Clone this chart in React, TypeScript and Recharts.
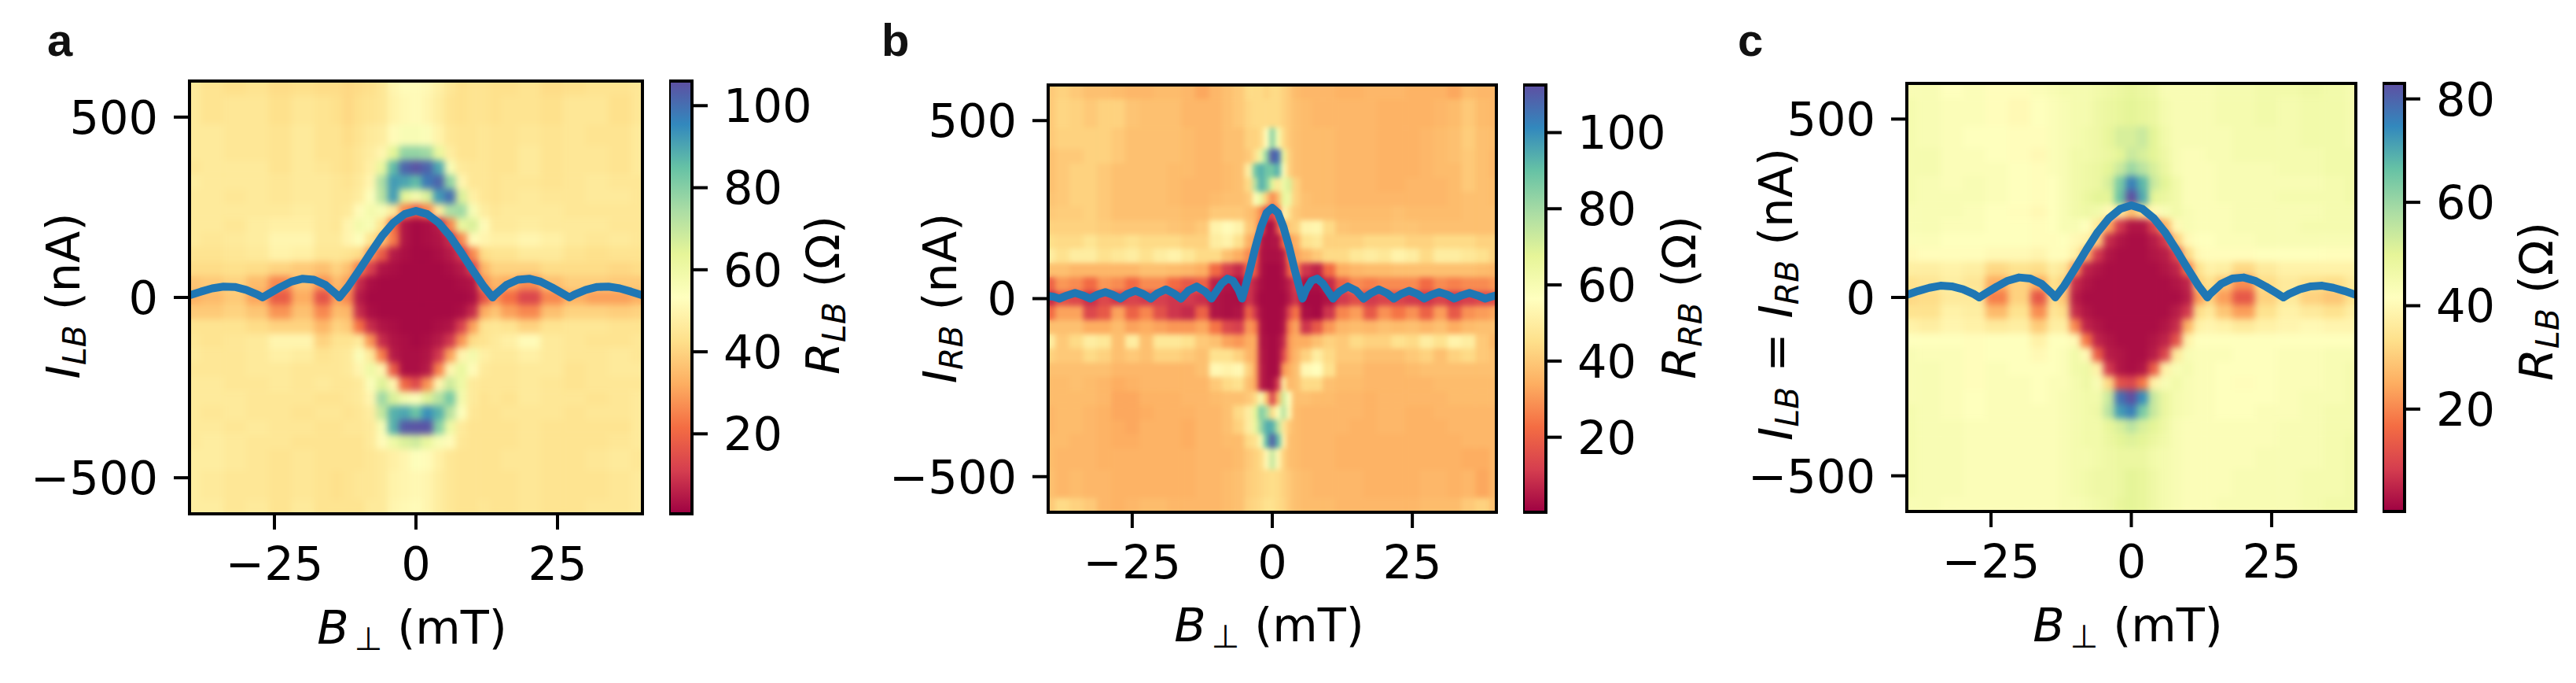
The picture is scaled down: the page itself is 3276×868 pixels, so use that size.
import React from "react"
import {Bar, BarChart, ComposedChart, Line, ReferenceArea, Scatter, XAxis, YAxis} from 'recharts';

const spectral = ['#9e0142', '#d53e4f', '#f46d43', '#fdae61', '#fee08b', '#ffffbf', '#e6f598', '#abdda4', '#66c2a5', '#3288bd', '#5e4fa2'];

const xTicks = [-25, 0, 25];
const yTicks = [-500, 0, 500];
const rows = [600, 520, 440, 400, 360, 320, 280, 240, 200, 160, 120, 80, 40, 0, -40, -80, -120, -160, -200, -240, -280, -320, -360, -400, -440, -520, -600];
const colsAC = [-40, -36, -32, -28, -24, -20, -16, -14, -12, -10, -8, -6, -4, -2, 0, 2, 4, 6, 8, 10, 12, 14, 16, 20, 24, 28, 32, 36, 40];
const colsB = [-40, -37.5, -35, -32.5, -30, -27.5, -25, -22.5, -20, -17.5, -15, -12.5, -10, -8, -6, -4, -3, -2, -1, 0, 1, 2, 3, 4, 6, 8, 10, 12.5, 15, 17.5, 20, 22.5, 25, 27.5, 30, 32.5, 35, 37.5, 40];

// R_LB map, one line per row of `rows`
const mapA = [
    [46,44,43,44,42,43,42,42,41,42,43,45,50,52,52,51,48,45,43,44,44,43,43,44,42,43,44,44,45],
    [46,44,45,45,43,45,44,43,41,43,44,45,49,51,52,50,47,44,43,44,44,43,44,44,43,45,45,43,45],
    [46,46,45,45,44,46,44,44,42,44,46,47,52,56,56,55,49,45,44,44,45,44,44,45,44,45,44,44,46],
    [46,46,45,45,44,46,44,44,43,45,47,50,64,78,78,76,62,47,44,44,45,44,44,46,44,45,45,44,46],
    [45,46,46,46,44,46,45,44,43,45,48,62,86,102,105,102,90,56,46,45,45,44,44,46,44,45,45,44,46],
    [47,46,46,46,45,46,46,45,44,46,50,74,92,90,86,98,102,78,50,45,45,44,45,45,44,45,46,45,45],
    [46,46,45,46,45,46,46,45,45,47,54,72,92,64,58,66,92,100,66,48,45,44,45,46,45,45,46,46,45],
    [46,46,46,46,46,47,46,45,46,52,58,56,46,26,18,26,46,74,76,56,47,45,46,46,46,45,45,45,45],
    [46,46,45,47,48,48,46,45,50,58,56,44,22,4,2,3,5,26,62,66,52,46,46,47,46,46,46,45,45],
    [46,45,46,47,50,50,46,46,50,54,44,36,24,4,2,3,4,8,26,52,50,48,48,50,48,46,45,46,45],
    [44,44,45,46,49,48,45,45,44,42,28,18,5,3,2,2,3,5,10,26,42,44,44,46,46,44,43,44,44],
    [42,42,43,42,40,38,36,40,36,24,12,4,3,2,2,2,2,3,5,12,34,40,40,40,42,42,42,41,42],
    [37,38,40,35,26,36,28,35,30,8,3,2,2,2,2,2,2,2,3,4,28,34,32,27,36,39,39,38,38],
    [33,35,38,31,18,32,16,30,26,5,2,2,2,2,2,2,2,2,2,3,16,28,22,13,26,33,30,30,33],
    [38,38,40,37,28,36,26,35,34,8,3,2,2,2,2,2,2,2,3,8,32,37,30,26,36,40,40,39,40],
    [44,44,44,42,40,40,34,40,38,22,8,4,3,2,2,2,3,4,12,30,44,45,44,40,44,45,45,44,44],
    [45,44,45,46,50,50,40,44,44,46,28,8,4,3,2,3,5,10,28,42,44,46,48,52,46,45,44,44,45],
    [46,45,45,46,48,47,44,45,46,55,46,24,5,3,3,4,10,30,50,58,48,46,46,48,46,45,45,46,45],
    [45,45,45,46,46,45,45,45,46,50,60,50,18,3,3,5,25,50,62,52,46,45,45,46,46,44,45,46,46],
    [46,46,45,45,46,45,46,45,45,46,55,65,50,20,14,28,50,68,60,46,45,45,45,46,45,44,45,45,45],
    [46,46,46,45,45,45,44,44,45,46,50,76,66,58,55,65,72,82,58,46,44,45,44,46,45,45,44,45,46],
    [46,45,46,45,45,44,45,45,44,45,47,70,88,90,84,94,88,72,54,45,44,44,45,45,45,44,45,45,46],
    [46,46,45,46,45,45,44,44,45,45,46,56,88,104,105,105,80,60,46,44,44,44,44,45,44,44,44,44,46],
    [46,47,46,45,45,44,44,44,44,44,46,52,60,66,68,62,56,52,45,44,44,44,44,45,44,44,44,45,46],
    [47,47,46,45,44,45,44,44,44,44,45,46,48,50,54,52,48,45,44,44,44,44,45,45,44,44,45,46,45],
    [47,46,45,45,44,45,44,43,44,45,45,46,49,50,51,50,47,45,44,44,44,44,44,45,44,44,44,45,46],
    [47,47,45,46,44,46,44,44,44,44,46,46,50,51,52,50,47,45,44,44,45,44,44,45,44,44,45,45,46],
];

// R_RB map
const mapB = [
    [40,42,40,38,38,37,36,36,37,37,36,33,36,38,40,44,44,44,42,44,44,42,40,37,36,36,36,35,35,36,36,36,35,35,35,33,37,36,36],
    [40,43,42,40,42,42,39,38,38,38,36,36,36,38,40,43,44,44,44,44,44,42,40,38,37,36,36,36,36,36,35,35,35,35,36,37,40,37,36],
    [40,42,42,42,42,40,38,38,38,38,37,36,36,38,38,42,42,44,56,84,60,44,40,38,37,37,37,36,36,36,35,35,35,36,37,38,41,38,37],
    [38,40,40,42,42,40,38,38,38,38,37,36,36,38,38,40,46,64,84,110,106,66,42,38,37,37,37,36,36,36,35,35,35,36,37,38,40,38,36],
    [38,40,42,42,40,38,38,38,38,37,37,36,36,37,38,50,88,94,88,88,94,58,42,38,37,37,37,36,36,36,35,35,35,36,37,37,40,38,36],
    [38,40,42,42,40,38,38,38,38,37,36,36,36,37,38,44,78,94,86,68,48,64,70,42,37,37,37,36,36,36,35,35,36,36,36,37,40,38,37],
    [39,40,42,42,40,38,38,38,38,37,36,36,37,38,38,40,58,66,40,28,36,66,64,42,38,37,37,36,36,36,36,36,36,36,36,37,38,38,37],
    [40,41,41,42,40,38,38,38,38,38,37,37,40,40,40,38,35,28,14,12,24,54,46,40,38,38,38,37,37,37,37,38,37,37,37,37,38,38,38],
    [42,42,42,42,41,40,40,40,40,39,38,40,52,55,52,40,36,20,4,3,16,34,40,42,52,53,44,39,38,38,38,39,39,38,38,38,38,38,38],
    [45,44,44,47,44,44,46,44,44,44,42,42,50,52,46,35,30,5,3,4,4,22,30,35,46,48,42,42,42,44,44,44,42,42,44,44,44,42,42],
    [50,46,50,50,46,48,50,46,50,52,48,44,44,38,34,28,22,4,3,3,3,5,25,32,36,40,44,44,48,50,48,52,50,44,50,50,48,46,42],
    [38,38,36,36,36,36,36,38,38,37,36,34,22,12,8,22,18,4,2,2,2,4,20,26,10,7,22,34,36,37,37,38,38,38,38,38,38,37,36],
    [20,30,28,22,30,28,22,28,28,22,18,20,6,4,3,10,6,3,2,2,2,3,6,12,3,3,8,20,28,26,28,28,28,22,28,26,28,28,30],
    [8,16,14,9,14,10,13,11,12,10,11,9,4,3,3,10,5,2,2,2,2,2,5,10,2,2,4,11,15,11,13,13,11,10,13,10,12,14,15],
    [22,32,32,14,18,32,20,27,16,10,8,20,4,3,4,20,10,3,2,2,2,3,14,24,3,2,10,27,31,18,29,24,29,20,31,18,29,31,33],
    [38,38,38,34,34,37,32,34,32,30,30,33,24,14,12,30,26,4,2,2,2,4,26,32,10,18,30,36,37,36,38,37,38,36,38,34,37,38,38],
    [50,40,44,50,48,38,50,38,48,48,46,40,38,32,30,34,33,4,3,2,3,8,30,34,34,38,42,40,44,42,42,46,44,50,46,52,50,40,36],
    [42,40,40,44,42,38,40,38,42,42,40,38,46,46,42,36,32,5,3,2,3,14,30,36,42,50,44,40,40,38,38,38,40,42,38,42,44,40,38],
    [38,38,38,38,38,36,36,36,36,36,36,38,54,52,54,42,32,6,3,2,3,30,34,38,54,56,46,38,38,36,36,36,37,38,38,38,38,38,38],
    [37,37,38,37,36,34,35,36,36,36,36,36,40,44,46,38,32,6,3,3,12,50,36,38,44,44,38,37,37,36,36,36,36,36,37,37,37,37,37],
    [37,37,37,37,36,33,33,35,35,35,36,36,37,38,38,40,44,60,38,12,35,72,56,38,38,37,37,36,36,35,36,36,36,36,36,37,37,37,37],
    [36,37,37,36,35,33,33,34,35,35,35,36,36,38,44,50,68,86,78,44,58,76,54,37,36,36,36,36,36,35,36,36,35,35,36,36,36,36,36],
    [36,37,37,36,35,34,33,35,35,35,34,36,36,38,42,50,66,82,94,94,76,48,40,37,36,36,36,36,35,35,36,36,35,35,35,36,36,36,36],
    [37,37,36,36,35,34,34,35,35,35,34,36,36,37,37,44,46,60,92,110,92,52,38,37,36,36,36,35,35,35,35,35,35,35,35,35,36,36,36],
    [37,36,36,36,35,35,35,35,35,35,35,36,36,36,37,40,42,44,54,74,54,42,38,37,36,36,36,35,35,35,35,35,35,35,35,35,34,34,36],
    [38,36,37,36,36,35,35,35,35,35,35,36,36,37,38,41,42,43,44,45,44,42,40,38,37,36,36,36,36,35,35,35,35,36,36,35,36,33,36],
    [40,44,42,40,36,35,36,37,37,36,36,36,36,37,38,42,43,44,46,46,44,43,40,38,37,37,37,36,36,36,36,36,36,37,37,37,40,42,38],
];

// R_LB map at I_LB = I_RB
const mapC = [
    [44,44,42,43,41,41,43,44,45,45,45,46,47,48,49,48,47,44,44,44,44,44,45,45,46,46,47,46,45],
    [45,44,43,43,41,40,42,43,44,45,45,47,48,49,50,49,48,45,44,44,44,44,45,45,46,45,46,46,45],
    [45,44,43,42,42,41,41,43,44,45,46,47,49,52,52,54,50,46,44,44,44,44,44,45,45,45,46,46,45],
    [45,45,43,43,42,41,40,43,44,46,46,47,48,50,54,52,50,47,44,43,43,44,44,45,45,45,45,46,46],
    [45,45,43,43,43,42,41,43,44,46,47,48,50,54,60,56,52,48,44,43,43,43,44,44,44,45,45,46,46],
    [45,44,43,44,43,42,41,42,44,46,47,48,52,64,76,68,54,50,46,43,43,43,44,44,44,44,44,45,46],
    [45,44,44,44,43,42,41,42,44,46,48,50,50,66,83,70,50,48,46,43,43,43,44,44,44,45,45,45,46],
    [44,44,44,43,42,41,40,42,44,46,47,46,40,36,28,34,40,44,46,44,43,43,43,44,44,44,44,45,45],
    [44,44,43,43,42,42,41,42,44,44,42,36,24,8,3,3,10,26,40,44,43,43,43,44,44,44,45,45,45],
    [43,43,42,42,42,42,41,41,42,40,38,30,6,3,2,2,4,8,30,40,42,42,43,43,44,44,44,44,44],
    [40,41,41,41,40,40,39,41,41,38,26,8,3,2,2,2,3,4,10,32,40,41,41,41,42,42,42,41,41],
    [37,37,38,37,32,34,33,37,35,22,5,3,2,2,2,2,2,3,5,18,34,38,37,32,36,38,38,38,38],
    [34,35,37,35,25,31,25,34,31,6,3,2,2,2,2,2,2,2,3,5,31,34,29,21,33,36,34,33,36],
    [32,33,36,36,19,31,13,33,29,4,2,2,2,2,2,2,2,2,2,4,23,31,23,13,31,36,31,29,34],
    [34,34,38,37,27,34,21,35,33,6,3,2,2,2,2,2,2,2,4,8,33,36,29,23,34,38,36,34,37],
    [38,37,39,38,36,37,30,37,37,20,5,3,2,2,2,2,2,3,6,26,38,39,38,36,38,39,40,39,39],
    [42,42,42,41,42,42,38,42,42,40,18,5,3,2,2,2,3,5,12,38,42,42,42,42,42,42,42,42,42],
    [44,43,43,41,42,42,40,42,43,46,40,14,4,3,2,2,4,10,36,44,43,43,43,42,42,43,43,44,44],
    [44,44,43,41,43,42,42,42,43,46,47,38,8,3,2,3,14,38,44,45,43,43,42,42,42,43,43,44,45],
    [44,44,43,41,43,43,42,43,43,45,47,44,32,12,10,18,38,44,46,44,43,43,42,41,42,43,43,44,45],
    [44,44,43,42,43,43,42,43,44,45,46,46,54,78,83,74,54,48,45,44,43,43,42,42,42,43,44,44,45],
    [45,44,43,42,43,43,43,43,44,45,46,47,56,72,76,64,54,48,45,44,43,43,42,42,43,43,44,45,45],
    [45,44,44,43,43,43,43,43,44,45,46,46,49,52,56,52,50,47,44,43,43,43,43,43,43,44,44,45,45],
    [45,44,44,43,43,43,43,43,44,45,46,46,48,50,51,50,48,46,44,43,43,43,43,43,43,44,44,45,46],
    [45,44,44,43,43,43,43,43,44,45,45,46,47,48,48,48,46,45,44,43,43,43,43,43,44,44,44,45,46],
    [45,44,44,43,43,43,43,43,44,45,46,47,47,48,50,49,47,45,44,43,43,43,43,44,44,44,45,45,46],
    [44,44,43,43,43,43,43,43,44,44,45,46,47,49,50,49,47,45,44,43,43,43,44,44,44,44,45,46,46],
];

// critical current curves, x in mT and y in nA
const curveAx = [-40, -38, -36, -34, -32, -30, -28, -27.1, -26, -24, -22, -20, -18, -16, -14, -13.55, -12, -10, -8, -6, -4, -2, 0, 2, 4, 6, 8, 10, 12, 13.55, 14, 16, 18, 20, 22, 24, 26, 27.1, 28, 30, 32, 34, 36, 38, 40];
const curveAy = [6, 16, 25, 30, 29, 21, 8, 0, 10, 28, 44, 52, 49, 35, 8, 0, 30, 76, 124, 170, 207, 231, 240, 231, 207, 170, 124, 76, 30, 0, 8, 35, 49, 52, 44, 28, 10, 0, 8, 21, 29, 30, 25, 16, 6];
const curveBx = [-40, -39, -38, -36.6, -35.2, -33.8, -32.5, -31.2, -29.8, -28.5, -27.1, -25.9, -24.4, -23, -21.7, -20.5, -19, -17.5, -16.3, -15, -13.5, -12, -10.85, -10, -9, -8, -7, -6, -5.4, -5, -4, -3, -2, -1, 0, 1, 2, 3, 4, 5, 5.4, 6, 7, 8, 9, 10, 10.85, 12, 13.5, 15, 16.3, 17.5, 19, 20.5, 21.7, 23, 24.4, 25.9, 27.1, 28.5, 29.8, 31.2, 32.5, 33.8, 35.2, 36.6, 38, 39, 40];
const curveBy = [7, 5, 0, 9, 16, 9, 0, 11, 18, 11, 0, 13, 22, 13, 0, 15, 26, 14, 0, 22, 34, 20, 0, 20, 43, 56, 50, 24, 0, 21, 81, 145, 201, 241, 255, 241, 201, 145, 81, 21, 0, 24, 50, 56, 43, 20, 0, 20, 34, 22, 0, 14, 26, 15, 0, 13, 22, 13, 0, 11, 18, 11, 0, 9, 16, 9, 0, 5, 9];
const curveCx = curveAx;
const curveCy = [7, 18, 27, 33, 31, 23, 9, 0, 11, 30, 47, 56, 53, 38, 9, 0, 32, 82, 134, 183, 222, 248, 258, 248, 222, 183, 134, 82, 32, 0, 9, 38, 53, 56, 47, 30, 11, 0, 9, 23, 31, 33, 27, 18, 7];

const rangeA = [0.5, 106];
const rangeB = [0.3, 112.5];
const rangeC = [0.2, 83];
const barTicksA = [20, 40, 60, 80, 100];
const barTicksB = [20, 40, 60, 80, 100];
const barTicksC = [20, 40, 60, 80];

const mix = (a: string, b: string, t: number) => {
    const channel = (i: number) => {
        const p = parseInt(a.slice(i, i + 2), 16);
        const q = parseInt(b.slice(i, i + 2), 16);
        return Math.round(p + (q - p) * t);
    };
    return `rgb(${channel(1)},${channel(3)},${channel(5)})`;
};

const colorOf = (value: number, range: number[]) => {
    const f = Math.min(1, Math.max(0, (value - range[0]) / (range[1] - range[0]))) * 10;
    const i = Math.min(9, Math.floor(f));
    return mix(spectral[i], spectral[i + 1], f - i);
};

const buildCells = (cols: number[], map: number[][], range: number[]) => {
    const cells: any[] = [];
    rows.forEach((y, r) => {
        cols.forEach((x, c) => {
            const xl = c === 0 ? x : (cols[c - 1] + x) / 2;
            const xr = c === cols.length - 1 ? x : (x + cols[c + 1]) / 2;
            const yt = r === 0 ? y : (rows[r - 1] + y) / 2;
            const yb = r === rows.length - 1 ? y : (y + rows[r + 1]) / 2;
            cells.push({x, y, xl, xr, yt, yb, fill: colorOf(map[r][c], range)});
        });
    });
    return cells;
};

const toPoints = (xs: number[], ys: number[]) => xs.map((x, i) => ({x, y: ys[i]}));
const signed = (v: number) => (v < 0 ? `\u2212${-v}` : `${v}`);

const FONT = '"DejaVu Sans"';
const FONT_SIZE = 59;
const SUB_SIZE = 41;
const LINE_W = 4;
const INK = '#000';
const PAD_L = 240;
const PAD_T = 10;
const PAD_R = 10;
const PAD_B = 150;

const HeatPanel = ({left, top, width, height, cells, curve, soft}: any) => {
    const sx = width / 80;
    const sy = height / 1200;
    const drawCell = (p: any) => {
        const d = p.payload;
        return (
            <rect
                x={p.cx + (d.xl - d.x) * sx}
                y={p.cy + (d.y - d.yt) * sy}
                width={(d.xr - d.xl) * sx + 0.6}
                height={(d.yt - d.yb) * sy + 0.6}
                fill={d.fill}
            />
        );
    };
    return (
        <div className={soft} style={{position: 'absolute', left: left - PAD_L, top: top - PAD_T}}>
            <ComposedChart
                width={PAD_L + width + PAD_R}
                height={PAD_T + height + PAD_B}
                margin={{top: PAD_T, right: PAD_R, bottom: 0, left: 0}}
            >
                <XAxis
                    type="number"
                    dataKey="x"
                    domain={[-40, 40]}
                    ticks={xTicks}
                    interval={0}
                    height={PAD_B}
                    tickSize={20}
                    tickMargin={22}
                    tickFormatter={signed}
                    tick={{fill: INK, fontSize: FONT_SIZE, fontFamily: FONT}}
                    tickLine={{stroke: INK, strokeWidth: LINE_W}}
                    axisLine={{stroke: INK, strokeWidth: LINE_W}}
                />
                <YAxis
                    type="number"
                    dataKey="y"
                    domain={[-600, 600]}
                    ticks={yTicks}
                    interval={0}
                    width={PAD_L}
                    tickSize={20}
                    tickMargin={20}
                    tickFormatter={signed}
                    tick={{fill: INK, fontSize: FONT_SIZE, fontFamily: FONT}}
                    tickLine={{stroke: INK, strokeWidth: LINE_W}}
                    axisLine={{stroke: INK, strokeWidth: LINE_W}}
                />
                <Scatter data={cells} shape={drawCell} zIndex={50} isAnimationActive={false} />
                <Line data={curve} dataKey="y" type="linear" stroke="#1f77b4" strokeWidth={10} dot={false} strokeLinejoin="round" zIndex={450} isAnimationActive={false} />
                <ReferenceArea x1={-40} x2={40} y1={-600} y2={600} fill="none" stroke={INK} strokeWidth={LINE_W} zIndex={460} />
            </ComposedChart>
        </div>
    );
};

const ColorBar = ({left, top, width, height, range, ticks}: any) => (
    <div style={{position: 'absolute', left, top: top - PAD_T}}>
        <BarChart
            width={width + 170}
            height={PAD_T + height + 10}
            data={[{name: 'bar', span: range}]}
            margin={{top: PAD_T, right: 0, bottom: 10, left: 0}}
            barCategoryGap={0}
        >
            <XAxis dataKey="name" hide />
            <YAxis
                orientation="right"
                type="number"
                domain={range}
                ticks={ticks}
                interval={0}
                width={170}
                tickSize={20}
                tickMargin={20}
                tick={{fill: INK, fontSize: FONT_SIZE, fontFamily: FONT}}
                tickLine={{stroke: INK, strokeWidth: LINE_W}}
                axisLine={false}
            />
            <Bar dataKey="span" fill="url(#spectralBar)" stroke={INK} strokeWidth={LINE_W} isAnimationActive={false} />
        </BarChart>
    </div>
);

// math style label, the sub is set smaller and lower, `after` goes back to the baseline
const Sub = ({children, after, gap = 0}: any) => (
    <>
        <tspan fontSize={SUB_SIZE} dy={8} dx={gap} fontStyle="italic">{children}</tspan>
        <tspan dy={-8}>{after}</tspan>
    </>
);
const It = ({children}: any) => <tspan fontStyle="italic">{children}</tspan>;

const Labels = () => (
    <svg width={3276} height={868} style={{position: 'absolute', left: 0, top: 0, pointerEvents: 'none'}}>
        <g fontFamily='"Liberation Sans"' fontWeight="bold" fontSize={58} fill="#111">
            <text x={60} y={71}>a</text>
            <text x={1121} y={71}>b</text>
            <text x={2210} y={71}>c</text>
        </g>
        <g fontFamily={FONT} fontSize={FONT_SIZE} fill={INK} textAnchor="middle">
            <text x={524} y={818}><It>B</It><Sub gap={7} after=" (mT)">{'\u22a5'}</Sub></text>
            <text x={1614} y={815}><It>B</It><Sub gap={7} after=" (mT)">{'\u22a5'}</Sub></text>
            <text x={2706} y={815}><It>B</It><Sub gap={7} after=" (mT)">{'\u22a5'}</Sub></text>
            <text transform="translate(101,376) rotate(-90)"><It>I</It><Sub after=" (nA)">LB</Sub></text>
            <text transform="translate(1216,379) rotate(-90)"><It>I</It><Sub after=" (nA)">RB</Sub></text>
            <text transform="translate(2279,374) rotate(-90)"><It>I</It><Sub after=" = ">LB</Sub><It>I</It><Sub after=" (nA)">RB</Sub></text>
            <text transform="translate(1067,375) rotate(-90)"><It>R</It><Sub after={' (\u03a9)'}>LB</Sub></text>
            <text transform="translate(2156,378) rotate(-90)"><It>R</It><Sub after={' (\u03a9)'}>RB</Sub></text>
            <text transform="translate(3246,383) rotate(-90)"><It>R</It><Sub after={' (\u03a9)'}>LB</Sub></text>
        </g>
    </svg>
);

const cellsA = buildCells(colsAC, mapA, rangeA);
const cellsB = buildCells(colsB, mapB, rangeB);
const cellsC = buildCells(colsAC, mapC, rangeC);

const App = () => {
    return (
        <div style={{position: 'absolute', left: 0, top: 0, width: 3276, height: 868, background: '#fff', overflow: 'hidden'}}>
            <style>{`
                .soft5 .recharts-scatter { filter: url(#soft5); }
                .soft3 .recharts-scatter { filter: url(#soft3); }
            `}</style>
            <svg width={0} height={0} style={{position: 'absolute'}}>
                <defs>
                    <linearGradient id="spectralBar" x1="0" y1="1" x2="0" y2="0">
                        {spectral.map((c, i) => <stop key={c} offset={i / 10} stopColor={c} />)}
                    </linearGradient>
                    <filter id="soft5" x="0" y="0" width="1" height="1" colorInterpolationFilters="sRGB">
                        <feGaussianBlur in="SourceGraphic" stdDeviation="4" result="b" />
                        <feMerge><feMergeNode in="SourceGraphic" /><feMergeNode in="b" /></feMerge>
                    </filter>
                    <filter id="soft3" x="0" y="0" width="1" height="1" colorInterpolationFilters="sRGB">
                        <feGaussianBlur in="SourceGraphic" stdDeviation="3" result="b" />
                        <feMerge><feMergeNode in="SourceGraphic" /><feMergeNode in="b" /></feMerge>
                    </filter>
                </defs>
            </svg>
            <HeatPanel left={241} top={103} width={576} height={550} cells={cellsA} curve={toPoints(curveAx, curveAy)} soft="soft5" />
            <ColorBar left={851} top={103} width={29} height={550} range={rangeA} ticks={barTicksA} />
            <HeatPanel left={1333} top={108} width={570} height={543} cells={cellsB} curve={toPoints(curveBx, curveBy)} soft="soft3" />
            <ColorBar left={1937} top={108} width={29} height={543} range={rangeB} ticks={barTicksB} />
            <HeatPanel left={2425} top={106} width={571} height={544} cells={cellsC} curve={toPoints(curveCx, curveCy)} soft="soft5" />
            <ColorBar left={3030} top={106} width={28} height={544} range={rangeC} ticks={barTicksC} />
            <Labels />
        </div>
    );
};

export default App;
